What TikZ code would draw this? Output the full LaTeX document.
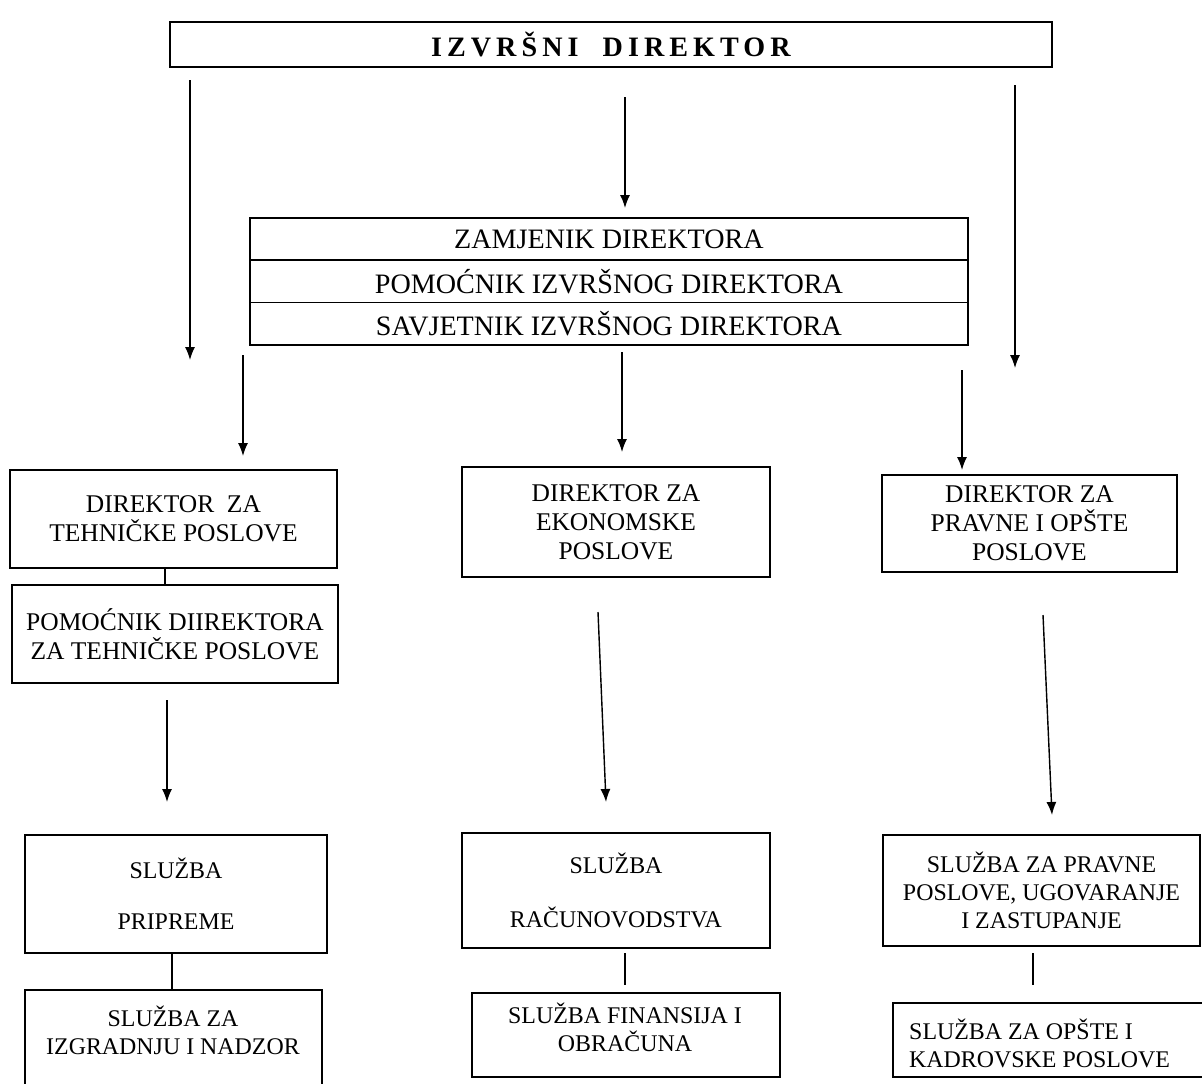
\documentclass[tikz,border=0pt]{standalone}
\usepackage{fontspec}
\setmainfont{Liberation Serif}
\newfontfamily\spacedfont[LetterSpace=18]{Liberation Serif}
\usetikzlibrary{positioning,arrows.meta}

\tikzset{
  box/.style={draw, line width=1pt, inner sep=0pt, outer sep=0pt, anchor=north west, align=center},
  big/.style={font=\fontsize{16}{18}\selectfont},
  mid/.style={font=\fontsize{14.5}{16.5}\selectfont},
  small/.style={font=\fontsize{13.6}{15.9}\selectfont},
  link/.style={line width=0.8pt},
}

\begin{document}
\begin{tikzpicture}[x=0.02cm, y=-0.02cm, >={Latex[length=2.6mm,width=2mm]}]
\fill[white] (0,0) rectangle (1202,1083);
\useasboundingbox (0,0) rectangle (1202,1083);

% top
\node[box, minimum width=17.64cm, minimum height=0.9cm] (izv) at (170,22)
  {\fontsize{16}{18}\selectfont\spacedfont\bfseries IZVRŠNI\ \ DIREKTOR};

% deputies
\node[box, big, minimum width=14.36cm, minimum height=0.845cm] (zam) at (250,218) {ZAMJENIK DIREKTORA};
\node[box, big, minimum width=14.36cm, minimum height=0.845cm, below=0cm of zam.south west, anchor=north west] (pom) {POMOĆNIK IZVRŠNOG DIREKTORA};
\node[box, big, minimum width=14.36cm, minimum height=0.845cm, below=0cm of pom.south west, anchor=north west] (sav) {SAVJETNIK IZVRŠNOG DIREKTORA};

% directors
\node[box, mid, minimum width=6.54cm, minimum height=1.96cm] (teh) at (10,470) {DIREKTOR\ \ ZA\\TEHNIČKE POSLOVE};
\node[box, mid, minimum width=6.52cm, minimum height=1.96cm] (pteh) at (12,585) {POMOĆNIK DIIREKTORA\\ZA TEHNIČKE POSLOVE};
\node[box, mid, minimum width=6.16cm, minimum height=2.2cm] (eko) at (462,467) {DIREKTOR ZA\\EKONOMSKE\\POSLOVE};
\node[box, mid, minimum width=5.9cm, minimum height=1.94cm] (prav) at (882,475) {DIREKTOR ZA\\PRAVNE I OPŠTE\\POSLOVE};

% services
\node[box, small, minimum width=6.04cm, minimum height=2.36cm] (prip) at (25,835) {SLUŽBA\\[13pt]PRIPREME};
\node[box, small, minimum width=6.16cm, minimum height=2.3cm] (racun) at (462,833) {SLUŽBA\\[15pt]RAČUNOVODSTVA};
\node[box, small, minimum width=6.34cm, minimum height=2.22cm] (pravsl) at (883,835) {SLUŽBA ZA PRAVNE\\POSLOVE, UGOVARANJE\\I ZASTUPANJE};

\node[box, minimum width=5.94cm, minimum height=2.4cm] (izgr) at (25,990) {};
\node[small, align=center] (izgr-t) at (173,1030) {SLUŽBA ZA\\IZGRADNJU I NADZOR};
\node[box, minimum width=6.16cm, minimum height=1.68cm] (fin) at (472,993) {};
\node[small, align=center] (fin-t) at (625,1027) {SLUŽBA FINANSIJA I\\OBRAČUNA};
\node[box, minimum width=6.8cm, minimum height=1.48cm] (kadr) at (893,1003) {};
\node[small, align=left, anchor=west] (kadr-t) at (903,1043) {SLUŽBA ZA OPŠTE I\\KADROVSKE POSLOVE};

% arrows
\coordinate (a1s) at (190,80);   \coordinate (a1e) at (190,360);
\coordinate (a2s) at (625,97);   \coordinate (a2e) at (625,208);
\coordinate (a3s) at (1015,85);  \coordinate (a3e) at (1015,368);
\coordinate (b1s) at (243,355);  \coordinate (b1e) at (243,456);
\coordinate (b2s) at (622,352);  \coordinate (b2e) at (622,452);
\coordinate (b3s) at (962,370);  \coordinate (b3e) at (962,470);
\coordinate (c1s) at (167,700);  \coordinate (c1e) at (167,802);
\coordinate (c2s) at (598,612);  \coordinate (c2e) at (606,802);
\coordinate (c3s) at (1043,615); \coordinate (c3e) at (1052,815);
\foreach \a in {a1,a2,a3,b1,b2,b3,c1,c2,c3}
  \draw[link,->] (\a s) -- (\a e);

% links
\draw[link] (teh.south -| 165,0) -- (pteh.north -| 165,0);
\draw[link] (prip.south -| 172,0) -- (izgr.north -| 172,0);
\coordinate (l2s) at (625,953);  \coordinate (l2e) at (625,985);
\coordinate (l3s) at (1033,953); \coordinate (l3e) at (1033,985);
\draw[link] (l2s) -- (l2e);
\draw[link] (l3s) -- (l3e);
\end{tikzpicture}
\end{document}
